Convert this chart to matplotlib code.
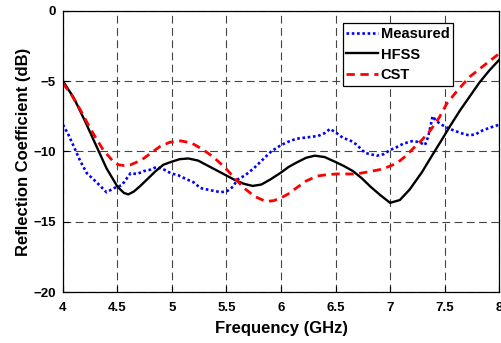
import matplotlib
matplotlib.use("Agg")
import matplotlib.pyplot as plt

plt.rcParams['font.family'] = ['Liberation Sans', 'DejaVu Sans']
plt.rcParams['font.weight'] = 'bold'

# Frequency (GHz) / reflection coefficient (dB) samples for each curve
meas_f = [4.00, 4.05, 4.10, 4.16, 4.22, 4.31, 4.40, 4.47, 4.54, 4.62, 4.68, 4.74,
          4.80, 4.86, 4.93, 4.99, 5.06, 5.14, 5.20, 5.26, 5.35, 5.45, 5.51, 5.56,
          5.60, 5.67, 5.75, 5.83, 5.91, 6.00, 6.07, 6.14, 6.24, 6.34, 6.40, 6.45,
          6.51, 6.57, 6.63, 6.69, 6.77, 6.82, 6.88, 6.94, 7.00, 7.06, 7.12, 7.21,
          7.27, 7.32, 7.35, 7.39, 7.42, 7.46, 7.52, 7.58, 7.65, 7.72, 7.78, 7.85,
          7.92, 8.00]
meas_db = [-8.1, -8.8, -9.65, -10.7, -11.55, -12.2, -12.9, -12.6, -12.4, -11.55, -11.6, -11.4,
           -11.3, -11.1, -11.3, -11.55, -11.7, -12.0, -12.2, -12.6, -12.75, -12.9, -12.8, -12.5,
           -12.0, -11.7, -11.2, -10.6, -10.0, -9.55, -9.3, -9.1, -9.0, -8.9, -8.7, -8.4,
           -8.7, -9.05, -9.2, -9.5, -10.1, -10.2, -10.3, -10.2, -9.9, -9.7, -9.45, -9.25,
           -9.35, -9.55, -8.95, -7.5, -7.8, -8.05, -8.3, -8.5, -8.7, -8.85, -8.8, -8.5,
           -8.3, -8.1]

hfss_f = [4.00, 4.10, 4.20, 4.30, 4.40, 4.50, 4.56, 4.60, 4.65, 4.71, 4.77, 4.85,
          4.92, 4.99, 5.07, 5.15, 5.24, 5.35, 5.46, 5.57, 5.66, 5.74, 5.82, 5.90,
          6.00, 6.07, 6.14, 6.23, 6.31, 6.40, 6.50, 6.58, 6.66, 6.74, 6.82, 6.91,
          7.00, 7.09, 7.18, 7.29, 7.40, 7.48, 7.55, 7.64, 7.73, 7.82, 7.91, 8.00]
hfss_db = [-5.0, -6.2, -7.8, -9.5, -11.2, -12.5, -12.95, -13.05, -12.85, -12.45, -12.0, -11.4,
           -10.95, -10.75, -10.55, -10.5, -10.65, -11.1, -11.55, -12.0, -12.3, -12.45, -12.35, -12.0,
           -11.5, -11.1, -10.8, -10.45, -10.3, -10.4, -10.75, -11.05, -11.4, -11.9, -12.5, -13.1,
           -13.65, -13.45, -12.7, -11.5, -10.1, -9.1, -8.2, -7.1, -6.1, -5.1, -4.25, -3.5]

cst_f = [4.00, 4.08, 4.16, 4.26, 4.37, 4.46, 4.51, 4.56, 4.62, 4.68, 4.74, 4.81,
         4.89, 4.98, 5.08, 5.18, 5.29, 5.38, 5.48, 5.57, 5.66, 5.76, 5.86, 5.93,
         6.00, 6.07, 6.14, 6.23, 6.33, 6.42, 6.51, 6.60, 6.69, 6.80, 6.90, 6.98,
         7.06, 7.14, 7.21, 7.29, 7.37, 7.45, 7.52, 7.62, 7.73, 7.86, 8.00]
cst_db = [-5.15, -6.0, -7.05, -8.5, -9.9, -10.7, -10.95, -11.0, -10.95, -10.75, -10.5, -10.1,
          -9.65, -9.35, -9.25, -9.4, -9.9, -10.4, -11.1, -11.85, -12.6, -13.2, -13.55, -13.5,
          -13.3, -13.0, -12.6, -12.1, -11.75, -11.65, -11.6, -11.6, -11.6, -11.45, -11.3, -11.1,
          -10.85, -10.35, -9.8, -9.2, -8.5, -7.6, -6.6, -5.65, -4.7, -3.9, -3.05]

x_ticks = [4, 4.5, 5, 5.5, 6, 6.5, 7, 7.5, 8]
x_tick_labels = ['4', '4.5', '5', '5.5', '6', '6.5', '7', '7.5', '8']
y_ticks = [-20, -15, -10, -5, 0]

fig = plt.figure(figsize=(5.02, 3.43), dpi=100)
ax = fig.add_axes([0.1253, 0.148, 0.869, 0.821])

ax.plot(meas_f, meas_db, color='#0000ff', linestyle=(0, (1, 1)), linewidth=1.9, label='Measured')
ax.plot(hfss_f, hfss_db, color='black', linestyle='-', linewidth=1.7, label='HFSS')
ax.plot(cst_f, cst_db, color='#ff0000', linestyle=(0, (3, 2)), linewidth=2.0, label='CST')

ax.set_xlim(4, 8)
ax.set_ylim(-20, 0)
ax.set_xticks(x_ticks)
ax.set_xticklabels(x_tick_labels)
ax.set_yticks(y_ticks)
ax.tick_params(direction='in', length=4, width=0.8, labelsize=9.5)
ax.tick_params(axis='x', pad=7)
ax.tick_params(axis='y', pad=5)
for lab in ax.get_xticklabels() + ax.get_yticklabels():
    lab.set_fontweight('bold')

ax.grid(True, color='#444444', linestyle=(0, (7, 4)), linewidth=0.8)
for s in ax.spines.values():
    s.set_linewidth(0.9)

ax.set_xlabel('Frequency (GHz)', fontsize=12, fontweight='bold', labelpad=5)
ax.set_ylabel('Reflection Coefficient (dB)', fontsize=12, fontweight='bold', labelpad=2)

leg = ax.legend(loc='upper right', bbox_to_anchor=(0.894, 0.955), fontsize=10.5,
                frameon=True, fancybox=False, edgecolor='black', framealpha=1,
                handlelength=2.2, handletextpad=0.15, borderpad=0.25, labelspacing=0.45,
                borderaxespad=0)
leg.get_frame().set_linewidth(0.9)
for t in leg.get_texts():
    t.set_fontweight('bold')

fig.savefig('out.png', dpi=100)
